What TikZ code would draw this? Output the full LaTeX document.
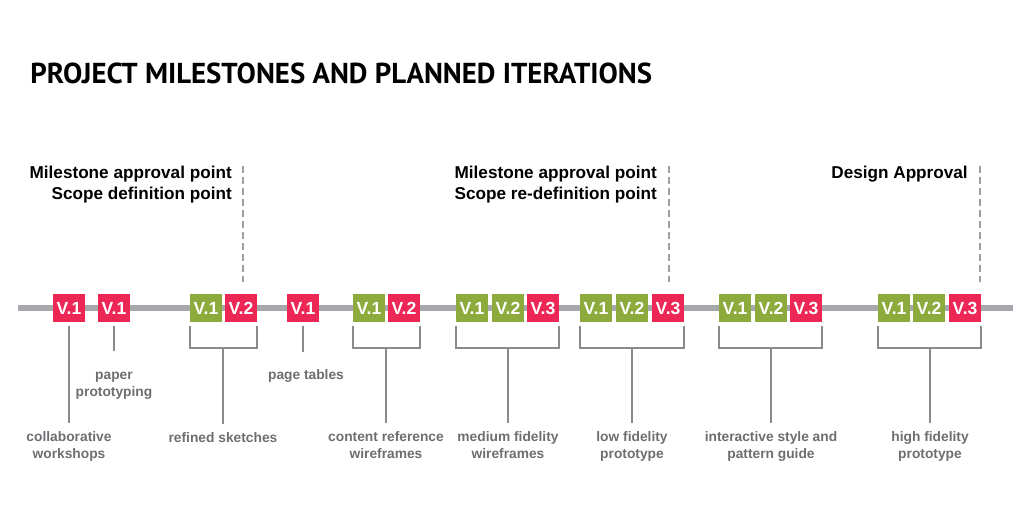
\documentclass[tikz,border=0pt]{standalone}
\usepackage{fontspec}
\setmainfont{Liberation Sans}
\newfontfamily\headfont{PT Sans}
\usepackage{tikz}

\definecolor{vred}{HTML}{EC2756}
\definecolor{vgreen}{HTML}{8DAA3D}
\definecolor{trackgray}{HTML}{A7A8AB}
\definecolor{linkgray}{HTML}{8A8B8D}
\definecolor{taggray}{HTML}{6D6E71}
\definecolor{guidegray}{HTML}{9D9EA0}

\begin{document}
\begin{tikzpicture}[x=0.025cm, y=-0.025cm,
	vbox/.style={minimum width=0.8cm, minimum height=0.7cm, inner sep=0pt,
		outer xsep=0pt, outer ysep=2.5pt, text=white,
		font=\bfseries\fontsize{12.5}{13}\selectfont},
	redbox/.style={vbox, fill=vred},
	greenbox/.style={vbox, fill=vgreen},
	tag/.style={anchor=base, align=center, inner sep=0pt, outer ysep=6pt,
		text=taggray, font=\bfseries\fontsize{9.8}{11.7}\selectfont},
	milestone/.style={anchor=north east, align=right, inner sep=0pt,
		font=\bfseries\fontsize{12.2}{14.7}\selectfont},
	link/.style={draw=linkgray, line width=1.1pt},
	guide/.style={draw=guidegray, line width=1.1pt, dash pattern=on 5pt off 2.8pt}]

	\useasboundingbox (0,0) rectangle (1024,506);

	\node[anchor=base west, inner sep=0pt, font=\headfont\bfseries\fontsize{20.5}{24}\selectfont]
		(title) at (30,83) {PROJECT MILESTONES AND PLANNED ITERATIONS};

	% milestones
	\node[milestone] (ms_1) at (232,166) {Milestone approval point\\Scope definition point};
	\node[milestone] (ms_2) at (657,166) {Milestone approval point\\Scope re-definition point};
	\node[milestone] (ms_3) at (968,166) {Design Approval};
	\coordinate (g_1t) at (243,166); \coordinate (g_1b) at (243,282);
	\coordinate (g_2t) at (669,166); \coordinate (g_2b) at (669,282);
	\coordinate (g_3t) at (980,166); \coordinate (g_3b) at (980,282);
	\draw[guide] (g_1t) -- (g_1b);
	\draw[guide] (g_2t) -- (g_2b);
	\draw[guide] (g_3t) -- (g_3b);

	% timeline
	\coordinate (start) at (18,308);
	\coordinate (end) at (1013,308);
	\draw[trackgray, line width=4.2pt] (start) -- (end);

	\node[redbox] (s_1) at (69,308) {V.1};
	\node[redbox] (s_2) at (114,308) {V.1};
	\node[greenbox] (s_3a) at (206,308) {V.1};
	\node[redbox] (s_3b) at (241,308) {V.2};
	\node[redbox] (s_4) at (303,308) {V.1};
	\node[greenbox] (s_5a) at (369,308) {V.1};
	\node[redbox] (s_5b) at (404,308) {V.2};
	\node[greenbox] (s_6a) at (472,308) {V.1};
	\node[greenbox] (s_6b) at (508,308) {V.2};
	\node[redbox] (s_6c) at (543,308) {V.3};
	\node[greenbox] (s_7a) at (596,308) {V.1};
	\node[greenbox] (s_7b) at (632,308) {V.2};
	\node[redbox] (s_7c) at (668,308) {V.3};
	\node[greenbox] (s_8a) at (735,308) {V.1};
	\node[greenbox] (s_8b) at (771,308) {V.2};
	\node[redbox] (s_8c) at (806,308) {V.3};
	\node[greenbox] (s_9a) at (894,308) {V.1};
	\node[greenbox] (s_9b) at (929,308) {V.2};
	\node[redbox] (s_9c) at (965,308) {V.3};

	% labels (base = last line)
	\node[tag] (t_1) at (69,458) {collaborative\\workshops};
	\node[tag] (t_2) at (114,396) {paper\\prototyping};
	\node[tag] (t_3) at (223,442) {refined sketches};
	\node[tag] (t_4) at (306,379) {page tables};
	\node[tag] (t_5) at (386,458) {content reference\\wireframes};
	\node[tag] (t_6) at (508,458) {medium fidelity\\wireframes};
	\node[tag] (t_7) at (632,458) {low fidelity\\prototype};
	\node[tag] (t_8) at (771,458) {interactive style and\\pattern guide};
	\node[tag] (t_9) at (930,458) {high fidelity\\prototype};

	\coordinate (e_2) at (114,351);
	\coordinate (e_4) at (303,352);
	\coordinate (m_3) at (223,348);
	\coordinate (m_5) at (386,348);
	\coordinate (m_6) at (508,348);
	\coordinate (m_7) at (632,348);
	\coordinate (m_8) at (771,348);
	\coordinate (m_9) at (930,348);

	\draw[link] (s_1) -- (t_1.north);
	\draw[link] (s_2) -- (e_2);
	\draw[link] (s_4) -- (e_4);
	\draw[link] (s_3a.south west) |- (m_3) -| (s_3b.south east);
	\draw[link] (s_5a.south west) |- (m_5) -| (s_5b.south east);
	\draw[link] (s_6a.south west) |- (m_6) -| (s_6c.south east);
	\draw[link] (s_7a.south west) |- (m_7) -| (s_7c.south east);
	\draw[link] (s_8a.south west) |- (m_8) -| (s_8c.south east);
	\draw[link] (s_9a.south west) |- (m_9) -| (s_9c.south east);
	\draw[link] (m_3) -- (t_3.north);
	\draw[link] (m_5) -- (t_5.north);
	\draw[link] (m_6) -- (t_6.north);
	\draw[link] (m_7) -- (t_7.north);
	\draw[link] (m_8) -- (t_8.north);
	\draw[link] (m_9) -- (t_9.north);
\end{tikzpicture}
\end{document}
